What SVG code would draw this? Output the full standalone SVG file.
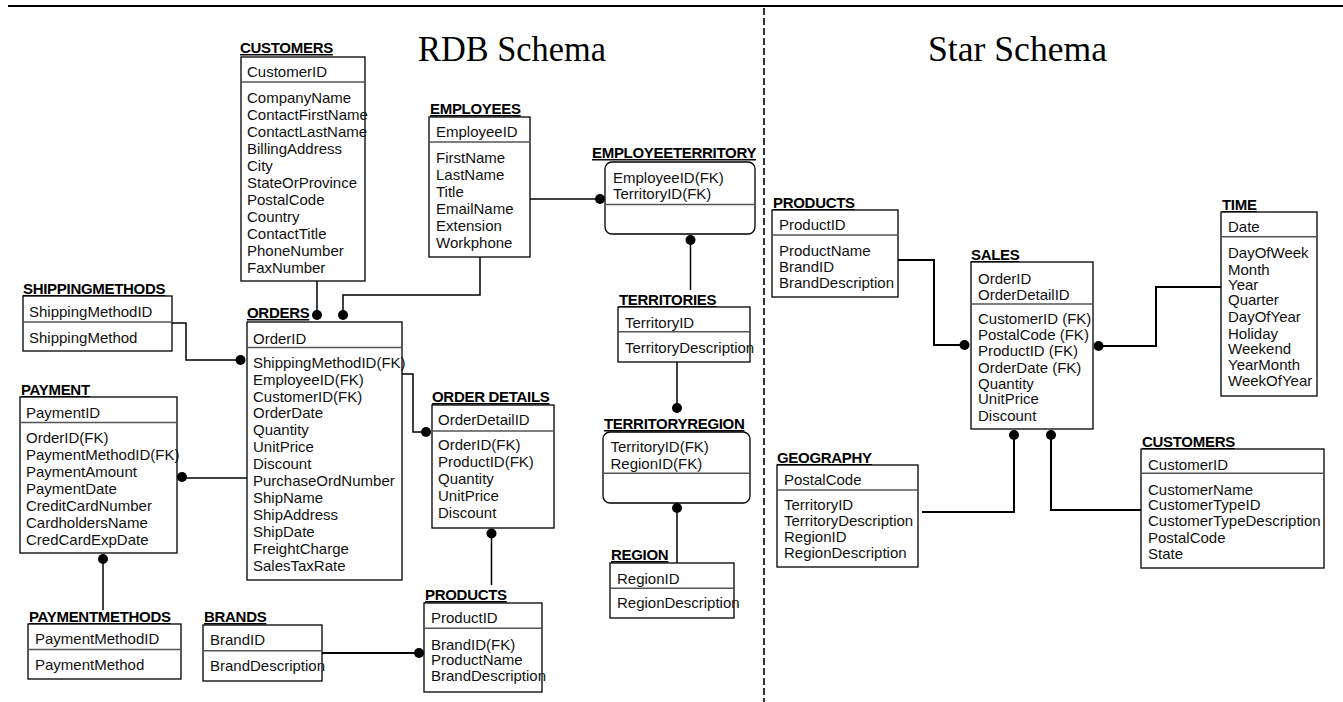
<svg xmlns="http://www.w3.org/2000/svg" width="1343" height="702" viewBox="0 0 1343 702">
<style>
.lbl{font-family:"Liberation Sans",Arial,sans-serif;font-size:15px;font-weight:bold;text-decoration:underline;letter-spacing:-0.3px;fill:#000}
.t{font-family:"Liberation Sans",Arial,sans-serif;font-size:15px;fill:#111}
.ttl{font-family:"Liberation Serif","Times New Roman",serif;font-size:36px;fill:#000}
.box{fill:#fff;stroke:#000;stroke-width:1.3}
.sep{stroke:#555;stroke-width:1.5}
.c{fill:none;stroke:#000;stroke-width:1.5}
.c2{fill:none;stroke:#000;stroke-width:2}
.dot{fill:#000}
</style>
<rect x="0" y="0" width="1343" height="702" fill="#fff"/>
<g id="frame">
<line x1="8" y1="6" x2="1343" y2="6" stroke="#000" stroke-width="2"/>
<line x1="764" y1="8" x2="764" y2="702" stroke="#000" stroke-width="1.6" stroke-dasharray="7 3"/>
<text class="ttl" x="418" y="61" textLength="188" lengthAdjust="spacingAndGlyphs">RDB Schema</text>
<text class="ttl" x="928" y="61" textLength="179" lengthAdjust="spacingAndGlyphs">Star Schema</text>
</g>
<g id="connectors">
<path class="c" d="M317 281 V315"/><circle class="dot" cx="317" cy="315" r="5"/>
<path class="c" d="M480 257 V295 H343 V315"/><circle class="dot" cx="343" cy="315" r="5"/>
<path class="c" d="M530 199 H600"/><circle class="dot" cx="600" cy="199" r="5"/>
<path class="c" d="M690.5 240 V290"/><circle class="dot" cx="690.5" cy="240" r="5"/>
<path class="c" d="M677 362 V408"/><circle class="dot" cx="677" cy="408" r="5"/>
<path class="c" d="M677 508 V563"/><circle class="dot" cx="677" cy="508" r="5"/>
<path class="c" d="M172 323 H186 V360 H240"/><circle class="dot" cx="240.5" cy="360" r="5"/>
<path class="c" d="M402 374 H413 V432 H426"/><circle class="dot" cx="426" cy="432" r="5"/>
<path class="c" d="M182 478 H247"/><circle class="dot" cx="182" cy="477" r="5"/>
<path class="c" d="M103 559 V610"/><circle class="dot" cx="103" cy="559" r="5"/>
<path class="c" d="M491.5 533 V585"/><circle class="dot" cx="491.5" cy="533.5" r="5"/>
<path class="c2" d="M322 653 H419"/><circle class="dot" cx="419" cy="653" r="5"/>
<path class="c2" d="M898 260 H934 V345 H964"/><circle class="dot" cx="964.5" cy="345" r="5"/>
<path class="c2" d="M1098 346 H1156 V287 H1221"/><circle class="dot" cx="1098.5" cy="346" r="5"/>
<path class="c2" d="M922 512 H1014 V435"/><circle class="dot" cx="1014" cy="435" r="5"/>
<path class="c2" d="M1051 435 V510 H1141"/><circle class="dot" cx="1051" cy="435" r="5"/>
</g>
<g id="customers">
<text class="lbl" x="240" y="53">CUSTOMERS</text>
<rect class="box" x="241" y="57" width="124" height="224"/>
<line class="sep" x1="241" y1="82" x2="365" y2="82"/>
<text class="t" x="247" y="77">CustomerID</text>
<text class="t" x="247" y="103">CompanyName</text>
<text class="t" x="247" y="120">ContactFirstName</text>
<text class="t" x="247" y="137">ContactLastName</text>
<text class="t" x="247" y="154">BillingAddress</text>
<text class="t" x="247" y="171">City</text>
<text class="t" x="247" y="188">StateOrProvince</text>
<text class="t" x="247" y="205">PostalCode</text>
<text class="t" x="247" y="222">Country</text>
<text class="t" x="247" y="239">ContactTitle</text>
<text class="t" x="247" y="256">PhoneNumber</text>
<text class="t" x="247" y="273">FaxNumber</text>
</g>
<g id="employees">
<text class="lbl" x="430" y="114">EMPLOYEES</text>
<rect class="box" x="429" y="117" width="101" height="140"/>
<line class="sep" x1="429" y1="142" x2="530" y2="142"/>
<text class="t" x="436" y="137">EmployeeID</text>
<text class="t" x="436" y="163">FirstName</text>
<text class="t" x="436" y="180">LastName</text>
<text class="t" x="436" y="197">Title</text>
<text class="t" x="436" y="214">EmailName</text>
<text class="t" x="436" y="231">Extension</text>
<text class="t" x="436" y="248">Workphone</text>
</g>
<g id="employeeterritory">
<text class="lbl" x="592" y="158">EMPLOYEETERRITORY</text>
<rect class="box" x="605" y="162" width="150" height="72" rx="7"/>
<line class="sep" x1="605" y1="204.5" x2="755" y2="204.5"/>
<text class="t" x="613" y="183">EmployeeID(FK)</text>
<text class="t" x="613" y="199">TerritoryID(FK)</text>
</g>
<g id="orders">
<text class="lbl" x="247" y="318">ORDERS</text>
<rect class="box" x="247" y="322" width="155" height="258"/>
<line class="sep" x1="247" y1="347.5" x2="402" y2="347.5"/>
<text class="t" x="253" y="344">OrderID</text>
<text class="t" x="253" y="367.7">ShippingMethodID(FK)</text>
<text class="t" x="253" y="384.6">EmployeeID(FK)</text>
<text class="t" x="253" y="401.5">CustomerID(FK)</text>
<text class="t" x="253" y="418.4">OrderDate</text>
<text class="t" x="253" y="435.3">Quantity</text>
<text class="t" x="253" y="452.2">UnitPrice</text>
<text class="t" x="253" y="469.1">Discount</text>
<text class="t" x="253" y="486">PurchaseOrdNumber</text>
<text class="t" x="253" y="502.9">ShipName</text>
<text class="t" x="253" y="519.8">ShipAddress</text>
<text class="t" x="253" y="536.7">ShipDate</text>
<text class="t" x="253" y="553.6">FreightCharge</text>
<text class="t" x="253" y="570.5">SalesTaxRate</text>
</g>
<g id="orderdetails">
<text class="lbl" x="432" y="402">ORDER DETAILS</text>
<rect class="box" x="432" y="405" width="122" height="123"/>
<line class="sep" x1="432" y1="431" x2="554" y2="431"/>
<text class="t" x="438" y="425.4">OrderDetailID</text>
<text class="t" x="438" y="450.4">OrderID(FK)</text>
<text class="t" x="438" y="467.4">ProductID(FK)</text>
<text class="t" x="438" y="484.4">Quantity</text>
<text class="t" x="438" y="501.4">UnitPrice</text>
<text class="t" x="438" y="518.4">Discount</text>
</g>
<g id="shippingmethods">
<text class="lbl" x="23" y="294">SHIPPINGMETHODS</text>
<rect class="box" x="23" y="296" width="149" height="55"/>
<line class="sep" x1="23" y1="322" x2="172" y2="322"/>
<text class="t" x="29" y="317">ShippingMethodID</text>
<text class="t" x="29" y="342.7">ShippingMethod</text>
</g>
<g id="payment">
<text class="lbl" x="21" y="395">PAYMENT</text>
<rect class="box" x="20" y="397" width="157" height="156"/>
<line class="sep" x1="20" y1="422.5" x2="177" y2="422.5"/>
<text class="t" x="26" y="418">PaymentID</text>
<text class="t" x="26" y="442.7">OrderID(FK)</text>
<text class="t" x="26" y="459.7">PaymentMethodID(FK)</text>
<text class="t" x="26" y="476.7">PaymentAmount</text>
<text class="t" x="26" y="493.7">PaymentDate</text>
<text class="t" x="26" y="510.7">CreditCardNumber</text>
<text class="t" x="26" y="527.7">CardholdersName</text>
<text class="t" x="26" y="544.7">CredCardExpDate</text>
</g>
<g id="paymentmethods">
<text class="lbl" x="29" y="622">PAYMENTMETHODS</text>
<rect class="box" x="28" y="624" width="153" height="55"/>
<line class="sep" x1="28" y1="649.5" x2="181" y2="649.5"/>
<text class="t" x="35" y="644.4">PaymentMethodID</text>
<text class="t" x="35" y="670.4">PaymentMethod</text>
</g>
<g id="brands">
<text class="lbl" x="204" y="622">BRANDS</text>
<rect class="box" x="203" y="625" width="119" height="56"/>
<line class="sep" x1="203" y1="650.7" x2="322" y2="650.7"/>
<text class="t" x="210" y="644.7">BrandID</text>
<text class="t" x="210" y="671.4">BrandDescription</text>
</g>
<g id="products-rdb">
<text class="lbl" x="425" y="600">PRODUCTS</text>
<rect class="box" x="424" y="603" width="118" height="89"/>
<line class="sep" x1="424" y1="628.3" x2="542" y2="628.3"/>
<text class="t" x="431" y="623">ProductID</text>
<text class="t" x="431" y="649.7">BrandID(FK)</text>
<text class="t" x="431" y="665.4">ProductName</text>
<text class="t" x="431" y="681.4">BrandDescription</text>
</g>
<g id="territories">
<text class="lbl" x="619" y="305">TERRITORIES</text>
<rect class="box" x="618" y="307" width="132" height="55"/>
<line class="sep" x1="618" y1="331.7" x2="750" y2="331.7"/>
<text class="t" x="625" y="327.7">TerritoryID</text>
<text class="t" x="625" y="353">TerritoryDescription</text>
</g>
<g id="territoryregion">
<text class="lbl" x="604" y="429">TERRITORYREGION</text>
<rect class="box" x="603" y="432" width="147" height="71" rx="7"/>
<line class="sep" x1="603" y1="473.3" x2="750" y2="473.3"/>
<text class="t" x="610.5" y="452">TerritoryID(FK)</text>
<text class="t" x="610.5" y="468.7">RegionID(FK)</text>
</g>
<g id="region">
<text class="lbl" x="611" y="560">REGION</text>
<rect class="box" x="610" y="563" width="124" height="55"/>
<line class="sep" x1="610" y1="588.3" x2="734" y2="588.3"/>
<text class="t" x="617" y="583.7">RegionID</text>
<text class="t" x="617" y="608">RegionDescription</text>
</g>
<g id="products-star">
<text class="lbl" x="773" y="208">PRODUCTS</text>
<rect class="box" x="772" y="210" width="126" height="87"/>
<line class="sep" x1="772" y1="235" x2="898" y2="235"/>
<text class="t" x="779" y="229.7">ProductID</text>
<text class="t" x="779" y="256.4">ProductName</text>
<text class="t" x="779" y="272">BrandID</text>
<text class="t" x="779" y="288">BrandDescription</text>
</g>
<g id="sales">
<text class="lbl" x="971" y="260">SALES</text>
<rect class="box" x="971" y="262" width="122" height="167"/>
<line class="sep" x1="971" y1="304" x2="1093" y2="304"/>
<text class="t" x="978" y="283.7">OrderID</text>
<text class="t" x="978" y="299.7">OrderDetailID</text>
<text class="t" x="978" y="324.4">CustomerID (FK)</text>
<text class="t" x="978" y="340.4">PostalCode (FK)</text>
<text class="t" x="978" y="356.4">ProductID (FK)</text>
<text class="t" x="978" y="373">OrderDate (FK)</text>
<text class="t" x="978" y="388.7">Quantity</text>
<text class="t" x="978" y="404.4">UnitPrice</text>
<text class="t" x="978" y="421.4">Discount</text>
</g>
<g id="time">
<text class="lbl" x="1222" y="210">TIME</text>
<rect class="box" x="1221" y="212" width="96" height="184"/>
<line class="sep" x1="1221" y1="236.7" x2="1317" y2="236.7"/>
<text class="t" x="1228" y="232">Date</text>
<text class="t" x="1228" y="258">DayOfWeek</text>
<text class="t" x="1228" y="274.7">Month</text>
<text class="t" x="1228" y="290.4">Year</text>
<text class="t" x="1228" y="305.4">Quarter</text>
<text class="t" x="1228" y="322">DayOfYear</text>
<text class="t" x="1228" y="338.7">Holiday</text>
<text class="t" x="1228" y="353.7">Weekend</text>
<text class="t" x="1228" y="369.7">YearMonth</text>
<text class="t" x="1228" y="386">WeekOfYear</text>
</g>
<g id="geography">
<text class="lbl" x="777" y="463">GEOGRAPHY</text>
<rect class="box" x="777" y="465" width="141" height="102"/>
<line class="sep" x1="777" y1="490" x2="918" y2="490"/>
<text class="t" x="784" y="485.4">PostalCode</text>
<text class="t" x="784" y="510.4">TerritoryID</text>
<text class="t" x="784" y="526">TerritoryDescription</text>
<text class="t" x="784" y="542">RegionID</text>
<text class="t" x="784" y="558">RegionDescription</text>
</g>
<g id="customers-star">
<text class="lbl" x="1142" y="447">CUSTOMERS</text>
<rect class="box" x="1141" y="449" width="183" height="119"/>
<line class="sep" x1="1141" y1="473.3" x2="1324" y2="473.3"/>
<text class="t" x="1148" y="469.7">CustomerID</text>
<text class="t" x="1148" y="494.7">CustomerName</text>
<text class="t" x="1148" y="510.4">CustomerTypeID</text>
<text class="t" x="1148" y="526.4">CustomerTypeDescription</text>
<text class="t" x="1148" y="542.7">PostalCode</text>
<text class="t" x="1148" y="559.4">State</text>
</g>
</svg>
